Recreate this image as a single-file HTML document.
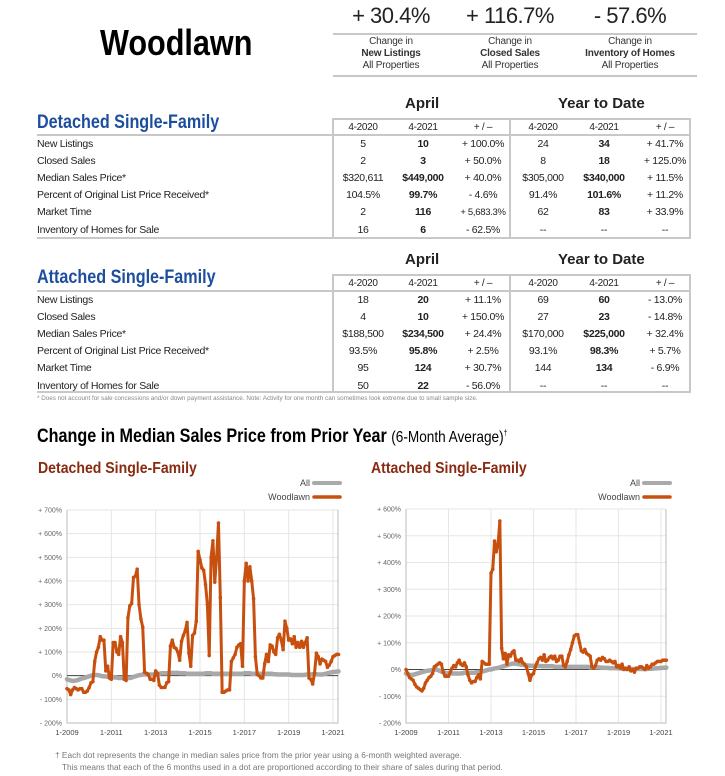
<!DOCTYPE html>
<html><head><meta charset="utf-8">
<style>
*{margin:0;padding:0;box-sizing:border-box}
body{width:725px;height:776px;background:#fff;position:relative;overflow:hidden;font-family:"Liberation Sans Narrow","Liberation Sans",sans-serif;color:#222}
.a{position:absolute;white-space:nowrap}
.kpi{font-size:22px;text-align:center;width:120px;font-family:"Liberation Sans",sans-serif;letter-spacing:-0.5px}
.cap{font-size:10px;text-align:center;width:120px;line-height:12px;color:#333;letter-spacing:-0.2px}
.hline{position:absolute;height:2px;background:#c8c8c8}
.vline{position:absolute;width:2px;background:#c8c8c8}
.sec{font-size:19px;font-weight:bold;color:#1d4e9e;transform:scaleX(.85);transform-origin:left}
.per{font-size:15px;font-weight:bold}
table.t{position:absolute;left:37px;border-collapse:collapse;font-size:10.5px;letter-spacing:-0.3px;table-layout:fixed}
table.t td{height:17.2px;padding:0;text-align:center;width:60px;overflow:visible;white-space:nowrap}
table.t td.l{text-align:left;width:296px}
table.t tr.h td{height:16px;font-size:10px}
.b{font-weight:bold}
.sub{font-size:16px;font-weight:bold;color:#8a2a12;transform:scaleX(.88);transform-origin:left}
</style></head><body>
<div class="a" style="left:100px;top:22px;font-size:36px;font-weight:bold;transform:scaleX(.85);transform-origin:left;color:#000">Woodlawn</div>

<div class="a kpi" style="left:331px;top:3px">+ 30.4%</div>
<div class="a kpi" style="left:450px;top:3px">+ 116.7%</div>
<div class="a kpi" style="left:570px;top:3px">- 57.6%</div>
<div class="hline" style="left:333px;top:33px;width:364px"></div>
<div class="a cap" style="left:331px;top:36px">Change in<br><b>New Listings</b><br>All Properties</div>
<div class="a cap" style="left:450px;top:36px">Change in<br><b>Closed Sales</b><br>All Properties</div>
<div class="a cap" style="left:570px;top:36px">Change in<br><b>Inventory of Homes</b><br>All Properties</div>
<div class="hline" style="left:333px;top:75px;width:364px"></div>

<div class="a per" style="left:405px;top:95px">April</div>
<div class="a per" style="left:558px;top:95px">Year to Date</div>
<div class="a sec" style="left:37px;top:112px">Detached Single-Family</div>
<div class="hline" style="left:333px;top:118px;width:358px"></div>
<div class="hline" style="left:37px;top:134px;width:654px"></div>
<div class="hline" style="left:37px;top:237px;width:654px"></div>
<div class="vline" style="left:332px;top:118px;height:121px"></div>
<div class="vline" style="left:509px;top:118px;height:121px"></div>
<div class="vline" style="left:689px;top:118px;height:121px"></div>
<table class="t" style="top:119px">
<tr class="h"><td class="l"></td><td style="width:59px">4-2020</td><td>4-2021</td><td style="width:58px">+ / –</td><td>4-2020</td><td style="width:62px">4-2021</td><td style="width:58px">+ / –</td></tr>
<tr><td class="l">New Listings</td><td>5</td><td class="b">10</td><td>+ 100.0%</td><td>24</td><td class="b">34</td><td>+ 41.7%</td></tr>
<tr><td class="l">Closed Sales</td><td>2</td><td class="b">3</td><td>+ 50.0%</td><td>8</td><td class="b">18</td><td>+ 125.0%</td></tr>
<tr><td class="l">Median Sales Price*</td><td>$320,611</td><td class="b">$449,000</td><td>+ 40.0%</td><td>$305,000</td><td class="b">$340,000</td><td>+ 11.5%</td></tr>
<tr><td class="l">Percent of Original List Price Received*</td><td>104.5%</td><td class="b">99.7%</td><td>- 4.6%</td><td>91.4%</td><td class="b">101.6%</td><td>+ 11.2%</td></tr>
<tr><td class="l">Market Time</td><td>2</td><td class="b">116</td><td style="font-size:9.5px">+ 5,683.3%</td><td>62</td><td class="b">83</td><td>+ 33.9%</td></tr>
<tr><td class="l">Inventory of Homes for Sale</td><td>16</td><td class="b">6</td><td>- 62.5%</td><td>--</td><td>--</td><td>--</td></tr>
</table>

<div class="a per" style="left:405px;top:251px">April</div>
<div class="a per" style="left:558px;top:251px">Year to Date</div>
<div class="a sec" style="left:37px;top:267px">Attached Single-Family</div>
<div class="hline" style="left:333px;top:274px;width:358px"></div>
<div class="hline" style="left:37px;top:290px;width:654px"></div>
<div class="hline" style="left:37px;top:391px;width:654px"></div>
<div class="vline" style="left:332px;top:274px;height:119px"></div>
<div class="vline" style="left:509px;top:274px;height:119px"></div>
<div class="vline" style="left:689px;top:274px;height:119px"></div>
<table class="t" style="top:275px">
<tr class="h"><td class="l"></td><td style="width:59px">4-2020</td><td>4-2021</td><td style="width:58px">+ / –</td><td>4-2020</td><td style="width:62px">4-2021</td><td style="width:58px">+ / –</td></tr>
<tr><td class="l">New Listings</td><td>18</td><td class="b">20</td><td>+ 11.1%</td><td>69</td><td class="b">60</td><td>- 13.0%</td></tr>
<tr><td class="l">Closed Sales</td><td>4</td><td class="b">10</td><td>+ 150.0%</td><td>27</td><td class="b">23</td><td>- 14.8%</td></tr>
<tr><td class="l">Median Sales Price*</td><td>$188,500</td><td class="b">$234,500</td><td>+ 24.4%</td><td>$170,000</td><td class="b">$225,000</td><td>+ 32.4%</td></tr>
<tr><td class="l">Percent of Original List Price Received*</td><td>93.5%</td><td class="b">95.8%</td><td>+ 2.5%</td><td>93.1%</td><td class="b">98.3%</td><td>+ 5.7%</td></tr>
<tr><td class="l">Market Time</td><td>95</td><td class="b">124</td><td>+ 30.7%</td><td>144</td><td class="b">134</td><td>- 6.9%</td></tr>
<tr><td class="l">Inventory of Homes for Sale</td><td>50</td><td class="b">22</td><td>- 56.0%</td><td>--</td><td>--</td><td>--</td></tr>
</table>
<div class="a" style="left:37px;top:395px;font-size:6.3px;color:#888">* Does not account for sale concessions and/or down payment assistance. Note: Activity for one month can sometimes look extreme due to small sample size.</div>

<div class="a" style="left:37px;top:426px;font-size:19px;font-weight:bold;transform:scaleX(.85);transform-origin:left;color:#000">Change in Median Sales Price from Prior Year <span style="font-weight:normal;font-size:16px">(6-Month Average)<sup style="font-size:8px">†</sup></span></div>
<div class="a sub" style="left:38px;top:460px">Detached Single-Family</div>
<div class="a sub" style="left:371px;top:460px">Attached Single-Family</div>

<svg class="a" style="left:0;top:0" width="725" height="776">
<g id="c1"></g>
<g id="c2"></g>
</svg>

<div class="a" style="left:55px;top:749px;font-size:8.3px;color:#777;line-height:12px;font-family:'Liberation Sans',sans-serif">† Each dot represents the change in median sales price from the prior year using a 6-month weighted average.<br>&nbsp;&nbsp;&nbsp;This means that each of the 6 months used in a dot are proportioned according to their share of sales during that period.</div>

<script>
const xLabels=["1-2009","1-2011","1-2013","1-2015","1-2017","1-2019","1-2021"];
const xLabelMonths=[0,24,48,72,96,120,144];
const leftTicks=[700,600,500,400,300,200,100,0,-100,-200];
const rightTicks=[600,500,400,300,200,100,0,-100,-200];
const detachedWoodlawn=[
-55,-60,-80,-60,-50,-55,-60,-55,-55,-70,-70,-65,
-50,-30,-25,60,100,120,165,150,150,20,40,-10,
-15,140,140,100,90,165,140,-15,-20,245,295,305,
415,420,450,300,240,205,15,10,5,-15,-15,-20,
20,10,-40,-50,-50,-50,-30,-25,125,150,120,115,
100,65,145,170,190,225,95,40,170,180,230,525,
490,455,445,385,300,85,500,570,395,500,645,330,
-70,-70,-65,-60,-60,60,75,90,120,130,135,40,
400,475,400,460,400,325,80,5,0,-10,-10,50,
90,60,130,125,100,90,160,175,150,110,230,200,
150,155,135,165,120,140,120,145,120,140,160,-10,
-15,-35,10,95,80,50,70,65,60,35,45,60,
80,85,90,90];
const detachedAll=[
-15,-18,-20,-22,-22,-20,-18,-15,-12,-10,-8,-5,
-3,0,2,3,3,2,0,-2,-3,-3,-5,-5,
-5,-6,-8,-8,-10,-10,-10,-8,-8,-10,-10,-8,
-5,-3,0,2,3,5,5,5,5,5,5,5,
5,5,8,10,10,10,10,10,12,12,12,12,
12,10,10,10,10,8,8,8,8,8,8,8,
8,8,8,10,10,10,10,8,8,8,8,8,
8,8,8,8,8,8,8,8,8,8,8,8,
10,10,10,10,8,8,8,8,8,8,8,8,
8,8,8,8,6,6,5,5,5,5,5,5,
5,4,3,3,3,3,3,3,3,4,5,5,
5,6,6,6,5,5,5,6,8,10,12,14,
15,16,17,18];
const attachedWoodlawn=[
0,-15,-30,-35,-40,-55,-65,-70,-75,-80,-70,-50,
-40,-30,-25,-15,10,15,20,25,20,-10,-25,-25,
-25,-10,5,15,10,25,35,20,15,25,10,-20,
-40,-50,-45,-45,-30,-20,-35,30,25,20,20,20,
360,375,480,440,470,555,80,40,60,20,55,50,
65,70,35,35,30,40,25,20,10,-15,-40,-20,
-15,10,25,40,45,35,55,30,35,45,50,40,
50,30,35,50,50,15,10,30,55,75,100,125,
130,130,100,70,65,75,60,55,50,10,5,15,
35,40,35,45,40,30,30,35,30,25,30,10,
15,5,20,0,5,0,10,-5,0,-10,5,5,
10,10,5,0,15,5,10,20,20,25,30,30,
30,35,35,35];
const attachedAll=[
-15,-18,-20,-20,-20,-18,-16,-14,-12,-10,-8,-6,
-5,-4,-3,-2,0,0,-2,-5,-8,-10,-12,-14,
-15,-15,-15,-15,-15,-15,-15,-15,-14,-12,-12,-12,
-12,-12,-12,-12,-10,-10,-10,-8,-6,-4,-2,0,
0,2,4,5,6,8,10,12,14,16,18,20,
22,22,22,20,20,18,18,16,15,15,14,14,
14,14,14,13,13,12,12,12,12,12,12,12,
10,10,10,10,10,10,10,10,10,10,10,10,
10,10,10,10,10,10,10,10,8,8,8,8,
8,8,7,7,6,6,6,5,5,5,5,5,
4,4,3,3,2,2,2,2,2,2,2,2,
2,2,2,2,2,3,3,3,4,4,5,5,
6,6,7,7];

const NS="http://www.w3.org/2000/svg";
function mk(parent,tag,attrs){const e=document.createElementNS(NS,tag);for(const k in attrs)e.setAttribute(k,attrs[k]);parent.appendChild(e);return e;}

function drawChart(g,cfg){
  const xS=m=>cfg.x0+m*(cfg.x21-cfg.x0)/144;
  const yS=v=>cfg.yB+(v-cfg.vMin)*(cfg.yT-cfg.yB)/(cfg.vMax-cfg.vMin);
  cfg.ticks.forEach(t=>{
    const l=mk(g,'line',{x1:cfg.x0,x2:cfg.x1,y1:yS(t),y2:yS(t),stroke:'#e6e6e6','stroke-width':1});
    
    
    const tx=mk(g,'text',{x:cfg.x0-5,y:yS(t)+2.5,'text-anchor':'end','font-size':'7px',fill:'#666','font-family':'Liberation Sans, sans-serif'});
    tx.textContent=(t>0?'+ ':t<0?'- ':'')+Math.abs(t)+'%';
    
    
  });
  xLabelMonths.forEach((m,i)=>{
    const l=mk(g,'line',{x1:xS(m),x2:xS(m),y1:cfg.yT,y2:cfg.yB,stroke:'#e6e6e6','stroke-width':1});
    
    
    const tx=mk(g,'text',{x:xS(m),y:cfg.yB+12,'text-anchor':'middle','font-size':'7.5px',fill:'#444','font-family':'Liberation Sans, sans-serif'});
    tx.textContent=xLabels[i];
    
    
  });
  const fr=mk(g,'path',{d:`M${cfg.x0},${cfg.yT}V${cfg.yB}H${cfg.x1}V${cfg.yT}`,fill:'none',stroke:'#bbb','stroke-width':1});
  
  
  const z=mk(g,'line',{x1:cfg.x0,x2:cfg.x1,y1:yS(0),y2:yS(0),stroke:'#444','stroke-width':1});
  
  
  const pa=mk(g,'polyline',{points:cfg.all.map((v,i)=>xS(i)+','+yS(v)).join(' '),fill:'none',stroke:'#a8a8a8','stroke-width':4.5,'stroke-linejoin':'round','stroke-linecap':'round'});
  
  
  const pw=mk(g,'polyline',{points:cfg.wd.map((v,i)=>xS(i)+','+yS(v)).join(' '),fill:'none',stroke:'#c8500f','stroke-width':3,'stroke-linejoin':'round'});
  
  
  cfg.wd.forEach((v,i)=>{
    const c=mk(g,'circle',{cx:xS(i),cy:yS(v),r:1.8,fill:'#c8500f'});
    
    
  });
  const la=mk(g,'text',{x:cfg.lx-4,y:cfg.ly+3,'text-anchor':'end','font-size':'9px',fill:'#444','font-family':'Liberation Sans, sans-serif'});
  la.textContent='All';
  
  
  const ls=mk(g,'line',{x1:cfg.lx,x2:cfg.lx+26,y1:cfg.ly,y2:cfg.ly,stroke:'#aaa','stroke-width':4,'stroke-linecap':'round'});
  
  
  const lw=mk(g,'text',{x:cfg.lx-4,y:cfg.ly+17,'text-anchor':'end','font-size':'9px',fill:'#444','font-family':'Liberation Sans, sans-serif'});
  lw.textContent='Woodlawn';
  
  
  const lws=mk(g,'line',{x1:cfg.lx,x2:cfg.lx+26,y1:cfg.ly+14,y2:cfg.ly+14,stroke:'#c8500f','stroke-width':3.5,'stroke-linecap':'round'});
  
  
}
drawChart(document.getElementById('c1'),{x0:67,x21:333,x1:338,yT:510,yB:723,vMax:700,vMin:-200,ticks:leftTicks,wd:detachedWoodlawn,all:detachedAll,lx:314,ly:483});
drawChart(document.getElementById('c2'),{x0:406,x21:661,x1:666,yT:509,yB:723,vMax:600,vMin:-200,ticks:rightTicks,wd:attachedWoodlawn,all:attachedAll,lx:644,ly:483});
</script>
</body></html>
